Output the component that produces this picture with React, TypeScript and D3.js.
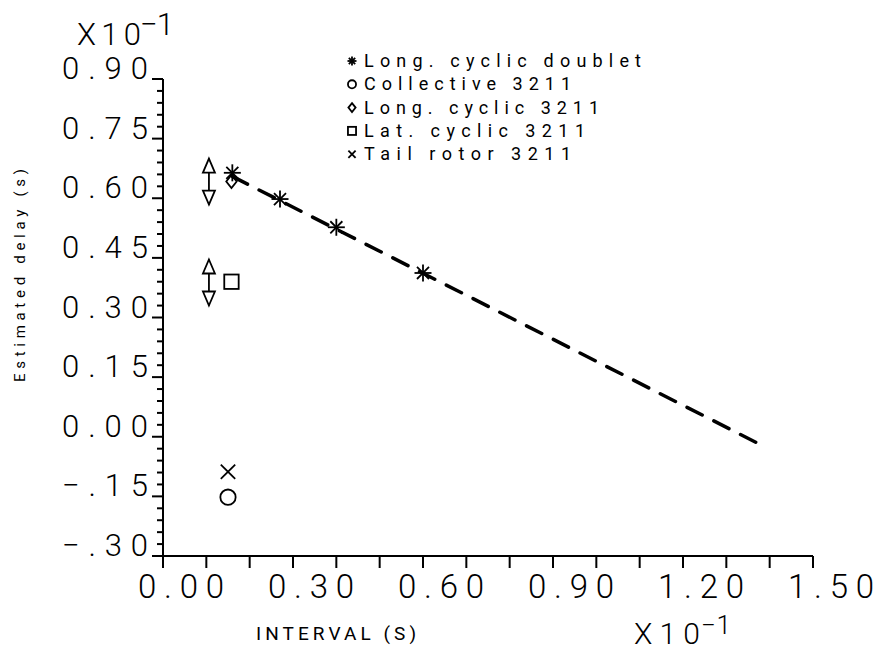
import React from 'react';
import * as d3 from 'd3';

// values are in units of 10^-1 s, as on the plot
const doubletX = [0.16, 0.27, 0.40, 0.60];
const doubletY = [0.664, 0.598, 0.527, 0.412];
const fitX = [0.16, 1.37];
const fitY = [0.655, -0.015];
const collectivePts = [[0.15, -0.152]];
const longCyclicPts = [[0.158, 0.642]];
const latCyclicPts = [[0.158, 0.39]];
const tailRotorPts = [[0.15, -0.088]];
const boundArrowPts = [[0.106, 0.642], [0.106, 0.388]];

const xLabels = ['0.00', '0.30', '0.60', '0.90', '1.20', '1.50'];
const yLabels = ['-.30', '-.15', '0.00', '0.15', '0.30', '0.45', '0.60', '0.75', '0.90'];
const legendItems = [
  { key: 'star', label: 'Long. cyclic doublet' },
  { key: 'circle', label: 'Collective 3211' },
  { key: 'diamond', label: 'Long. cyclic 3211' },
  { key: 'square', label: 'Lat. cyclic 3211' },
  { key: 'cross', label: 'Tail rotor 3211' },
];

const W = 882;
const H = 652;
const font = 'Roboto, "DejaVu Sans", sans-serif';

const x = d3.scaleLinear().domain([0, 1.5]).range([163, 813]);
const y = d3.scaleLinear().domain([-0.3, 0.9]).range([556, 79]);

const Marker = ({ kind, cx, cy, s }: { kind: string; cx: number; cy: number; s: number }) => {
  const st = { stroke: '#000', strokeWidth: 1.8, fill: 'none' };
  if (kind === 'star') {
    return (
      <g {...st}>
        {[0, 45, 90, 135].map(a => {
          const r = (a * Math.PI) / 180;
          return <line key={a} x1={cx - s * Math.cos(r)} y1={cy - s * Math.sin(r)} x2={cx + s * Math.cos(r)} y2={cy + s * Math.sin(r)} />;
        })}
      </g>
    );
  }
  if (kind === 'circle') return <circle cx={cx} cy={cy} r={s * 0.9} {...st} />;
  if (kind === 'diamond') return <path d={`M${cx},${cy - s}L${cx + s * 0.8},${cy}L${cx},${cy + s}L${cx - s * 0.8},${cy}Z`} {...st} />;
  if (kind === 'square') return <rect x={cx - s * 0.9} y={cy - s * 0.9} width={s * 1.8} height={s * 1.8} {...st} />;
  if (kind === 'cross') {
    return (
      <g {...st}>
        <line x1={cx - s * 0.8} y1={cy - s * 0.8} x2={cx + s * 0.8} y2={cy + s * 0.8} />
        <line x1={cx - s * 0.8} y1={cy + s * 0.8} x2={cx + s * 0.8} y2={cy - s * 0.8} />
      </g>
    );
  }
  return null;
};

// open up/down arrow pair drawn left of the first points
const BoundArrow = ({ cx, cy }: { cx: number; cy: number }) => (
  <g stroke="#000" strokeWidth={1.8} fill="#fff">
    <line x1={cx} y1={cy - 23} x2={cx} y2={cy + 23} />
    <path d={`M${cx},${cy - 23}L${cx + 6},${cy - 9}L${cx - 6},${cy - 9}Z`} />
    <path d={`M${cx},${cy + 23}L${cx + 6},${cy + 9}L${cx - 6},${cy + 9}Z`} />
  </g>
);

export default function App() {
  const yTicks = d3.range(0, 41).map(i => -0.3 + i * 0.03);
  const xTicks = d3.range(0, 16).map(i => i * 0.1);
  const fitLine = d3.line<number>().x(d => x(fitX[d])).y(d => y(fitY[d]));

  return (
    <svg width={W} height={H} style={{ position: 'absolute', left: 0, top: 0, background: '#fff' }}>
      {/* axes */}
      <g stroke="#000" strokeWidth={2} fill="none">
        <line x1={x(0)} y1={y(0.9)} x2={x(0)} y2={y(-0.3) + 12} />
        <line x1={x(0) - 11} y1={y(-0.3)} x2={x(1.5)} y2={y(-0.3)} />
        {yTicks.map((t, i) => (
          <line key={'y' + i} x1={x(0)} x2={x(0) - (i % 5 === 0 ? 11 : 6)} y1={y(t)} y2={y(t)} />
        ))}
        {xTicks.map((t, i) => (
          <line key={'x' + i} x1={x(t)} x2={x(t)} y1={y(-0.3)} y2={y(-0.3) + 12} />
        ))}
      </g>

      {/* tick labels */}
      <g fontFamily={font} fontWeight={300} fontSize={31} fill="#000">
        {yLabels.map((l, i) => (
          <text key={l} x={62} y={y(-0.3 + i * 0.15)} textLength={86} lengthAdjust="spacing">{l.replace('-', '\u2212')}</text>
        ))}
        {xLabels.map((l, i) => (
          <text key={l} x={x(i * 0.3) - 25} y={598} fontSize={33} textLength={86} lengthAdjust="spacing">{l}</text>
        ))}
        <text x={77} y={45} textLength={64} lengthAdjust="spacing">X10</text>
        <text x={140} y={35} textLength={34} lengthAdjust="spacing">{'\u22121'}</text>
        <text x={634} y={644} fontSize={30} textLength={66} lengthAdjust="spacing">X10</text>
        <text x={701} y={634} fontSize={26} textLength={30} lengthAdjust="spacing">{'\u22121'}</text>
      </g>

      {/* axis titles */}
      <text x={256} y={640} fontFamily={font} fontSize={19} textLength={160} lengthAdjust="spacing">INTERVAL (S)</text>
      <text transform={`translate(25,382) rotate(-90)`} fontFamily={font} fontSize={15} textLength={213} lengthAdjust="spacing">Estimated delay (s)</text>

      {/* fitted line */}
      <path d={fitLine([0, 1]) || ''} fill="none" stroke="#000" strokeWidth={3.5} strokeDasharray="17,13" strokeLinecap="round" />

      {/* data */}
      {boundArrowPts.map((p, i) => <BoundArrow key={'a' + i} cx={x(p[0])} cy={y(p[1])} />)}
      {longCyclicPts.map((p, i) => <Marker key={'d' + i} kind="diamond" cx={x(p[0])} cy={y(p[1])} s={6.5} />)}
      {latCyclicPts.map((p, i) => <Marker key={'s' + i} kind="square" cx={x(p[0])} cy={y(p[1])} s={8} />)}
      {collectivePts.map((p, i) => <Marker key={'c' + i} kind="circle" cx={x(p[0])} cy={y(p[1])} s={8.5} />)}
      {tailRotorPts.map((p, i) => <Marker key={'t' + i} kind="cross" cx={x(p[0])} cy={y(p[1])} s={9} />)}
      {doubletX.map((v, i) => <Marker key={'st' + i} kind="star" cx={x(v)} cy={y(doubletY[i])} s={8.5} />)}

      {/* legend */}
      <g fontFamily={font} fontSize={18} fill="#000">
        {legendItems.map((it, i) => {
          const by = 67 + i * 23.3;
          return (
            <g key={it.key}>
              <Marker kind={it.key} cx={352} cy={by - 6} s={4.5} />
              <text x={364} y={by} textLength={it.label.length * 14 - 3} lengthAdjust="spacing">{it.label}</text>
            </g>
          );
        })}
      </g>
    </svg>
  );
}
